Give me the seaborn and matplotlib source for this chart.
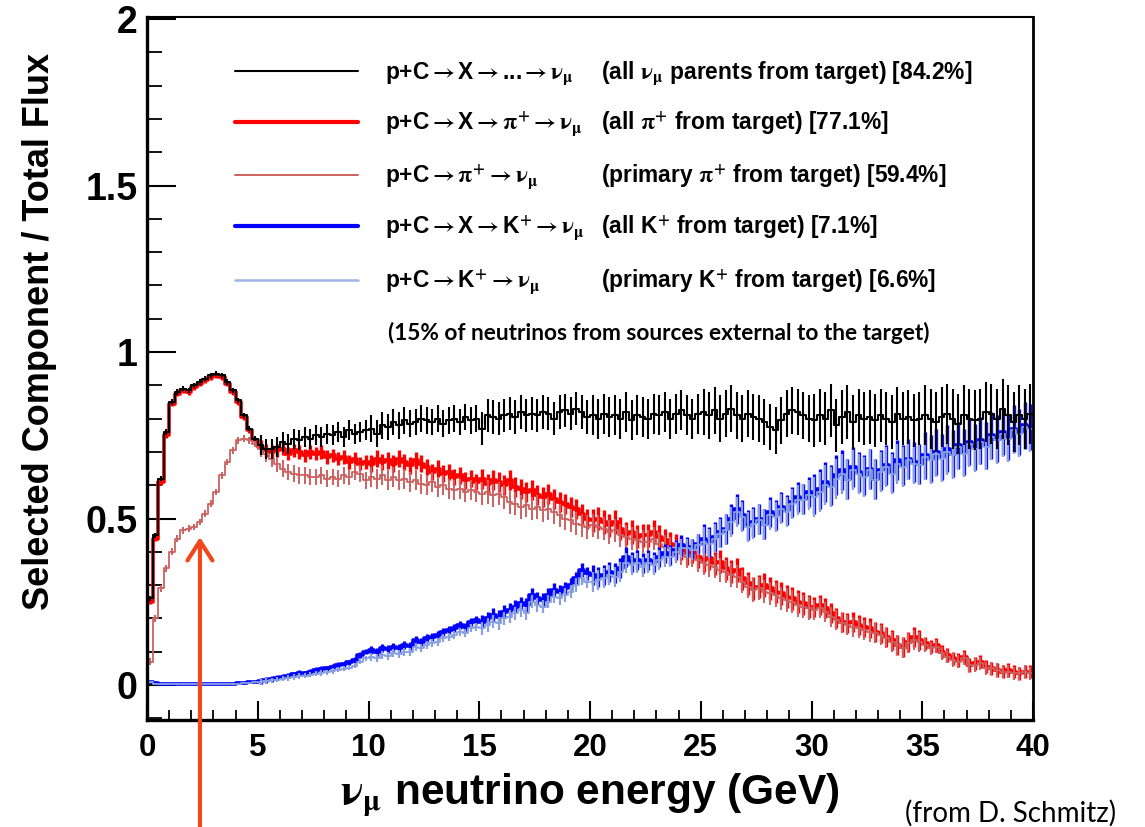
import numpy as np
import pandas as pd
import matplotlib
matplotlib.use("Agg")
import matplotlib.pyplot as plt
import seaborn as sns
from matplotlib.lines import Line2D
from matplotlib.ticker import MultipleLocator, FormatStrFormatter

# ---------------- data (0.25 GeV bins, 0 - 40 GeV) ----------------
bin_width = 0.25
energy_range = (0.0, 40.0)
energy_centers = np.arange(energy_range[0] + bin_width / 2, energy_range[1], bin_width)

all_parents = [
    0.26, 0.45, 0.62, 0.76, 0.85, 0.88, 0.89, 0.885, 0.90, 0.91,
    0.92, 0.93, 0.935, 0.93, 0.91, 0.885, 0.855, 0.81, 0.77, 0.74,
    0.72, 0.71, 0.71, 0.715, 0.73, 0.725, 0.74, 0.735, 0.745, 0.74,
    0.75, 0.745, 0.755, 0.75, 0.76, 0.745, 0.765, 0.755, 0.76, 0.765,
    0.77, 0.755, 0.78, 0.775, 0.79, 0.78, 0.795, 0.785, 0.79, 0.80,
    0.795, 0.79, 0.80, 0.785, 0.795, 0.80, 0.79, 0.805, 0.795, 0.80,
    0.77, 0.81, 0.805, 0.80, 0.81, 0.815, 0.805, 0.82, 0.81, 0.815,
    0.81, 0.82, 0.815, 0.80, 0.82, 0.825, 0.815, 0.83, 0.82, 0.805,
    0.81, 0.80, 0.815, 0.805, 0.81, 0.80, 0.82, 0.795, 0.81, 0.805,
    0.80, 0.815, 0.81, 0.82, 0.80, 0.815, 0.825, 0.81, 0.80, 0.815,
    0.82, 0.81, 0.825, 0.80, 0.815, 0.83, 0.81, 0.80, 0.815, 0.805,
    0.80, 0.79, 0.775, 0.765, 0.795, 0.815, 0.825, 0.82, 0.81, 0.80,
    0.795, 0.81, 0.80, 0.825, 0.78, 0.805, 0.82, 0.79, 0.81, 0.80,
    0.805, 0.795, 0.81, 0.80, 0.79, 0.815, 0.80, 0.805, 0.795, 0.80,
    0.81, 0.80, 0.79, 0.805, 0.815, 0.80, 0.785, 0.81, 0.80, 0.795,
    0.80, 0.82, 0.815, 0.80, 0.83, 0.81, 0.79, 0.81, 0.80, 0.815,
]

all_pi_plus = [
    0.25, 0.44, 0.61, 0.75, 0.845, 0.875, 0.885, 0.88, 0.895, 0.905,
    0.915, 0.925, 0.93, 0.925, 0.905, 0.88, 0.85, 0.805, 0.765, 0.735,
    0.715, 0.705, 0.70, 0.705, 0.71, 0.695, 0.705, 0.70, 0.69, 0.70,
    0.695, 0.70, 0.685, 0.69, 0.68, 0.685, 0.67, 0.68, 0.665, 0.67,
    0.665, 0.68, 0.67, 0.675, 0.665, 0.68, 0.67, 0.66, 0.675, 0.665,
    0.655, 0.64, 0.65, 0.635, 0.64, 0.625, 0.63, 0.615, 0.62, 0.61,
    0.62, 0.605, 0.615, 0.61, 0.60, 0.615, 0.595, 0.59, 0.58, 0.585,
    0.57, 0.565, 0.575, 0.56, 0.55, 0.545, 0.535, 0.53, 0.515, 0.50,
    0.495, 0.50, 0.49, 0.48, 0.49, 0.47, 0.455, 0.46, 0.445, 0.45,
    0.45, 0.46, 0.445, 0.435, 0.425, 0.42, 0.41, 0.395, 0.40, 0.385,
    0.375, 0.38, 0.365, 0.37, 0.35, 0.34, 0.345, 0.32, 0.305, 0.29,
    0.295, 0.30, 0.29, 0.28, 0.275, 0.265, 0.26, 0.25, 0.245, 0.235,
    0.235, 0.24, 0.23, 0.215, 0.20, 0.19, 0.185, 0.19, 0.18, 0.175,
    0.17, 0.16, 0.155, 0.145, 0.135, 0.12, 0.115, 0.13, 0.145, 0.135,
    0.125, 0.115, 0.12, 0.10, 0.09, 0.08, 0.075, 0.085, 0.06, 0.065,
    0.07, 0.055, 0.05, 0.045, 0.04, 0.045, 0.04, 0.035, 0.04, 0.04,
]

primary_pi_plus = [
    0.07, 0.20, 0.29, 0.35, 0.40, 0.44, 0.465, 0.47, 0.475, 0.49,
    0.515, 0.545, 0.58, 0.63, 0.67, 0.705, 0.735, 0.74, 0.735, 0.725,
    0.71, 0.695, 0.68, 0.665, 0.65, 0.64, 0.635, 0.63, 0.63, 0.625,
    0.625, 0.63, 0.62, 0.625, 0.62, 0.63, 0.625, 0.64, 0.635, 0.615,
    0.625, 0.62, 0.63, 0.615, 0.625, 0.615, 0.62, 0.61, 0.615, 0.605,
    0.60, 0.61, 0.595, 0.60, 0.59, 0.585, 0.59, 0.58, 0.585, 0.58,
    0.575, 0.58, 0.57, 0.575, 0.565, 0.55, 0.545, 0.535, 0.54, 0.53,
    0.535, 0.525, 0.53, 0.52, 0.51, 0.50, 0.495, 0.485, 0.48, 0.475,
    0.48, 0.475, 0.47, 0.46, 0.465, 0.45, 0.445, 0.44, 0.435, 0.43,
    0.43, 0.44, 0.425, 0.415, 0.41, 0.40, 0.395, 0.385, 0.39, 0.375,
    0.365, 0.36, 0.355, 0.345, 0.34, 0.33, 0.325, 0.31, 0.295, 0.285,
    0.29, 0.28, 0.275, 0.27, 0.26, 0.255, 0.25, 0.24, 0.235, 0.23,
    0.225, 0.23, 0.22, 0.205, 0.195, 0.185, 0.18, 0.175, 0.17, 0.165,
    0.16, 0.155, 0.15, 0.14, 0.13, 0.12, 0.11, 0.125, 0.135, 0.13,
    0.12, 0.11, 0.115, 0.095, 0.085, 0.075, 0.07, 0.08, 0.06, 0.06,
    0.065, 0.05, 0.05, 0.045, 0.04, 0.04, 0.035, 0.035, 0.04, 0.035,
]

all_k_plus = [
    0.01, 0.005, 0.002, 0.002, 0.002, 0.002, 0.002, 0.002, 0.002, 0.002,
    0.002, 0.002, 0.002, 0.002, 0.003, 0.004, 0.005, 0.006, 0.008, 0.010,
    0.012, 0.015, 0.018, 0.022, 0.025, 0.028, 0.032, 0.036, 0.035, 0.040,
    0.045, 0.048, 0.05, 0.055, 0.06, 0.062, 0.068, 0.075, 0.09, 0.10,
    0.105, 0.10, 0.11, 0.108, 0.115, 0.112, 0.12, 0.118, 0.135, 0.13,
    0.14, 0.145, 0.15, 0.16, 0.165, 0.17, 0.18, 0.175, 0.19, 0.195,
    0.19, 0.20, 0.21, 0.205, 0.22, 0.225, 0.235, 0.245, 0.24, 0.27,
    0.26, 0.255, 0.27, 0.285, 0.28, 0.29, 0.30, 0.32, 0.345, 0.335,
    0.33, 0.325, 0.33, 0.34, 0.335, 0.35, 0.385, 0.37, 0.375, 0.365,
    0.375, 0.37, 0.385, 0.395, 0.39, 0.405, 0.42, 0.415, 0.41, 0.425,
    0.44, 0.43, 0.445, 0.46, 0.47, 0.50, 0.53, 0.51, 0.48, 0.49,
    0.50, 0.485, 0.52, 0.51, 0.535, 0.525, 0.55, 0.565, 0.56, 0.58,
    0.575, 0.59, 0.61, 0.60, 0.63, 0.645, 0.62, 0.655, 0.64, 0.63,
    0.65, 0.62, 0.645, 0.66, 0.64, 0.675, 0.66, 0.68, 0.67, 0.665,
    0.69, 0.68, 0.70, 0.685, 0.71, 0.695, 0.72, 0.70, 0.73, 0.715,
    0.735, 0.72, 0.75, 0.74, 0.76, 0.745, 0.77, 0.76, 0.78, 0.775,
]

primary_k_plus = [
    0.008, 0.004, 0.002, 0.002, 0.002, 0.002, 0.002, 0.002, 0.002, 0.002,
    0.002, 0.002, 0.002, 0.002, 0.002, 0.003, 0.004, 0.005, 0.006, 0.008,
    0.010, 0.012, 0.014, 0.016, 0.019, 0.021, 0.024, 0.027, 0.028, 0.031,
    0.034, 0.036, 0.038, 0.042, 0.046, 0.049, 0.052, 0.058, 0.07, 0.08,
    0.085, 0.08, 0.09, 0.088, 0.095, 0.092, 0.10, 0.098, 0.115, 0.11,
    0.12, 0.125, 0.13, 0.14, 0.145, 0.15, 0.16, 0.155, 0.17, 0.175,
    0.17, 0.18, 0.19, 0.185, 0.20, 0.205, 0.215, 0.225, 0.215, 0.25,
    0.24, 0.235, 0.25, 0.265, 0.26, 0.27, 0.28, 0.30, 0.32, 0.31,
    0.31, 0.315, 0.32, 0.33, 0.325, 0.34, 0.365, 0.36, 0.365, 0.355,
    0.365, 0.36, 0.375, 0.385, 0.385, 0.40, 0.41, 0.41, 0.405, 0.42,
    0.43, 0.425, 0.44, 0.455, 0.465, 0.49, 0.52, 0.505, 0.475, 0.485,
    0.495, 0.48, 0.51, 0.505, 0.53, 0.52, 0.545, 0.555, 0.555, 0.57,
    0.565, 0.58, 0.60, 0.595, 0.62, 0.635, 0.615, 0.645, 0.635, 0.625,
    0.645, 0.615, 0.64, 0.655, 0.635, 0.665, 0.655, 0.675, 0.665, 0.66,
    0.685, 0.675, 0.695, 0.68, 0.70, 0.69, 0.715, 0.695, 0.725, 0.71,
    0.73, 0.715, 0.745, 0.735, 0.755, 0.74, 0.765, 0.755, 0.775, 0.77,
]

# half-length of error bars, one value per 5 GeV block
err_all_parents = [0.008, 0.03, 0.04, 0.05, 0.06, 0.07, 0.08, 0.09]
err_all_pi = [0.008, 0.02, 0.025, 0.03, 0.035, 0.035, 0.03, 0.02]
err_prim_pi = [0.01, 0.025, 0.03, 0.035, 0.035, 0.035, 0.03, 0.02]
err_all_k = [0.002, 0.008, 0.012, 0.02, 0.03, 0.045, 0.06, 0.07]
err_prim_k = [0.002, 0.008, 0.012, 0.02, 0.03, 0.045, 0.06, 0.07]

NU = r"$\mathrm{\nu}_{\mathrm{\mu}}$"
ARR = r"$\rightarrow$"
PI = r"$\mathrm{\pi}^{+}$"
KP = r"K$^{+}$"
legend_left = [
    "p+C" + ARR + "X" + ARR + "..." + ARR + NU,
    "p+C" + ARR + "X" + ARR + PI + ARR + NU,
    "p+C" + ARR + PI + ARR + NU,
    "p+C" + ARR + "X" + ARR + KP + ARR + NU,
    "p+C" + ARR + KP + ARR + NU,
]
legend_right = [
    "(all " + NU + " parents from target) [84.2%]",
    "(all " + PI + " from target) [77.1%]",
    "(primary " + PI + " from target) [59.4%]",
    "(all " + KP + " from target) [7.1%]",
    "(primary " + KP + " from target) [6.6%]",
]

# ---------------- style ----------------
sns.set_theme(style="ticks")
plt.rcParams["font.family"] = ["Liberation Sans", "DejaVu Sans"]
plt.rcParams["font.weight"] = "bold"
plt.rcParams["mathtext.fontset"] = "stix"
for key in ["text.color", "axes.labelcolor", "xtick.color", "ytick.color",
            "axes.edgecolor"]:
    plt.rcParams[key] = "black"

W, H = 1145, 827
fig = plt.figure(figsize=(W / 100, H / 100), dpi=100)
fig.patch.set_facecolor("white")


def fx(px):
    return px / W


def fy(py):
    return 1 - py / H


ax = fig.add_axes([fx(147), fy(720), (1033 - 147) / W, (720 - 17) / H])
ax.set_facecolor("white")

series = [
    (all_pi_plus, err_all_pi, "#ff0000", 2.6, 2.4),
    (primary_pi_plus, err_prim_pi, "#cc6161", 1.3, 1.4),
    (all_k_plus, err_all_k, "#0000ff", 2.6, 2.4),
    (primary_k_plus, err_prim_k, "#88a0e0", 1.3, 1.6),
    (all_parents, err_all_parents, "#000000", 1.5, 1.5),
]

for vals, errs, color, lw, elw in series:
    vals = np.asarray(vals, dtype=float)
    yerr = np.repeat(errs, len(vals) // len(errs))
    df = pd.DataFrame({"energy": energy_centers, "ratio": vals})
    sns.histplot(data=df, x="energy", weights="ratio", binwidth=bin_width,
                 binrange=energy_range, element="step", fill=False,
                 color=color, linewidth=lw, ax=ax)
    ax.errorbar(df["energy"], df["ratio"], yerr=yerr, fmt="none", ecolor=color,
                elinewidth=elw, capsize=0)

ax.set_xlim(0, 40)
ax.set_ylim(-0.105, 2.006)
ax.xaxis.set_major_locator(MultipleLocator(5))
ax.xaxis.set_minor_locator(MultipleLocator(1))
ax.yaxis.set_major_locator(MultipleLocator(0.5))
ax.yaxis.set_minor_locator(MultipleLocator(0.1))
ax.yaxis.set_major_formatter(FormatStrFormatter("%g"))

ax.tick_params(axis="x", which="major", direction="in", length=14, width=1.5,
               bottom=True, top=False, labelsize=22.5, pad=9, color="black")
ax.tick_params(axis="x", which="minor", direction="in", length=7, width=1.3,
               bottom=True, top=False, color="black")
ax.tick_params(axis="y", which="major", direction="in", length=21, width=1.5,
               left=True, right=False, labelsize=27, pad=7, color="black")
ax.tick_params(axis="y", which="minor", direction="in", length=11, width=1.3,
               left=True, right=False, color="black")
for lab in ax.get_xticklabels() + ax.get_yticklabels():
    lab.set_fontweight("bold")

for side, lw in [("left", 2.4), ("bottom", 2.4), ("right", 2.0), ("top", 1.5)]:
    ax.spines[side].set_visible(True)
    ax.spines[side].set_linewidth(lw)
    ax.spines[side].set_color("black")

ax.set_ylabel("Selected Component / Total Flux", fontsize=26, fontweight="bold")
ax.yaxis.set_label_coords((40 - 147) / 886, (720 - 331) / 703)
ax.yaxis.label.set_va("center")
ax.set_xlabel(NU + " neutrino energy (GeV)", fontsize=30.5, fontweight="bold")
ax.xaxis.set_label_coords((590 - 147) / 886, (720 - 795) / 703)
ax.xaxis.label.set_va("center")

# ---------------- legend (drawn by hand, ROOT style) ----------------
legend_rows = [71, 122, 175, 226, 280]
legend_styles = [("#000000", 1.5), ("#ff0000", 3.0), ("#cc6161", 1.4),
                 ("#0000ff", 3.0), ("#9fb3e6", 1.8)]
for py, (c, lw), lt, rt in zip(legend_rows, legend_styles, legend_left, legend_right):
    fig.add_artist(Line2D([fx(235), fx(358)], [fy(py), fy(py)],
                          transform=fig.transFigure, color=c, lw=lw))
    fig.text(fx(385), fy(py + 8), lt, ha="left", va="baseline",
             fontsize=16.4, fontweight="bold")
    fig.text(fx(601), fy(py + 8), rt, ha="left", va="baseline",
             fontsize=16.4, fontweight="bold")

fig.text(fx(388), fy(333), "(15% of neutrinos from sources external to the target)",
         ha="left", va="center", fontsize=16.3, fontweight="bold",
         family=["Lato", "DejaVu Sans"])

fig.text(fx(905), fy(813), "(from D. Schmitz)", ha="left", va="center",
         fontsize=20, fontweight="normal", family=["Lato", "DejaVu Sans"])

# orange arrow pointing at the shoulder of the primary pi+ curve
ax.annotate("", xy=(2.39, 0.444), xytext=(2.39, -0.43), xycoords="data",
            textcoords="data", annotation_clip=False,
            arrowprops=dict(arrowstyle="->,head_length=0.7,head_width=0.45",
                            color="#f2461c", lw=3.0, shrinkA=0, shrinkB=0,
                            mutation_scale=20))

fig.savefig("out.png", dpi=100, facecolor="white")
